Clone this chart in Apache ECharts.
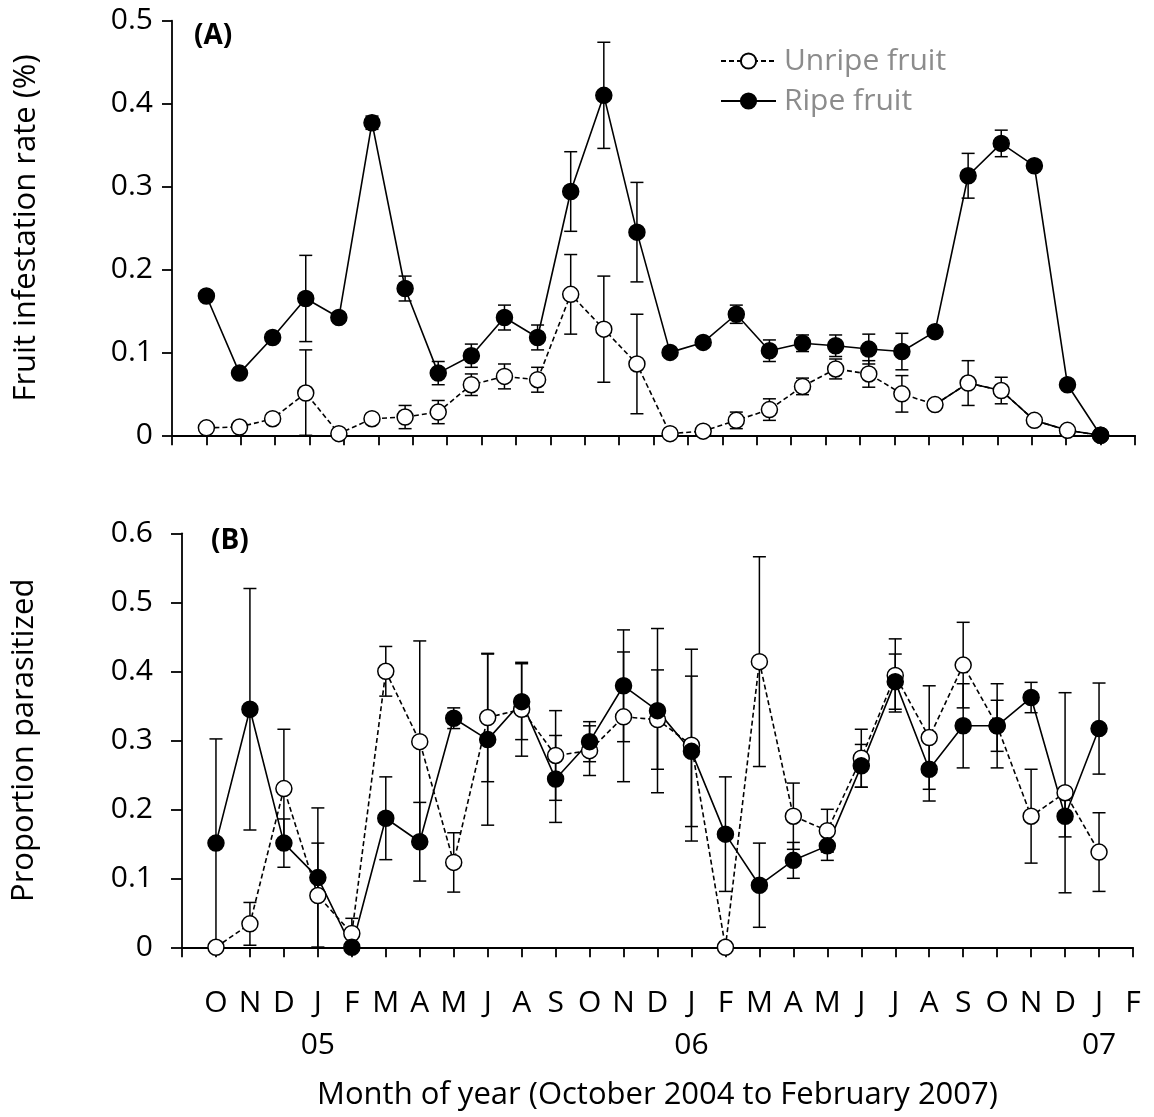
<!DOCTYPE html>
<html>
<head>
<meta charset="utf-8">
<script src="https://cdn.jsdelivr.net/npm/echarts@6/dist/echarts.min.js"></script>
<style>html,body{margin:0;padding:0;background:#fff}#c{width:1154px;height:1117px}</style>
</head>
<body>
<div id="c"></div>
<script>
// ---- tick labels ----
const months = ['O','N','D','J','F','M','A','M','J','A','S','O','N','D','J','F','M','A','M','J','J','A','S','O','N','D','J','F'];
const yearLabels = ['','','','05','','','','','','','','','','','06','','','','','','','','','','','','07',''];

// ---- Panel A: fruit infestation rate (28 samples) ----
const ripeTop      = [0.168,0.075,0.118,0.165,0.142,0.377,0.177,0.075,0.096,0.142,0.118,0.294,0.410,0.245,0.100,0.112,0.146,0.102,0.111,0.108,0.104,0.101,0.125,0.313,0.352,0.325,0.061,0.000];
const ripeTopErr   = [0,0,0,0.052,0,0.008,0.015,0.014,0.014,0.015,0.015,0.048,0.064,0.060,0,0,0.011,0.013,0.010,0.013,0.018,0.022,0,0.027,0.016,0,0,0];
const unripeTop    = [0.009,0.010,0.020,0.051,0.002,0.020,0.022,0.028,0.061,0.071,0.067,0.170,0.128,0.086,0.002,0.005,0.018,0.031,0.059,0.080,0.074,0.050,0.037,0.063,0.054,0.018,0.006,0.000];
const unripeTopErr = [0,0,0,0.052,0,0,0.014,0.014,0.013,0.015,0.015,0.048,0.064,0.060,0,0,0.010,0.013,0.010,0.012,0.016,0.022,0,0.027,0.016,0,0,0];

// ---- Panel B: proportion parasitized (27 samples) ----
const ripeBot      = [0.151,0.345,0.151,0.101,0.000,0.187,0.153,0.332,0.301,0.356,0.244,0.298,0.379,0.343,0.284,0.164,0.090,0.126,0.147,0.263,0.385,0.258,0.321,0.321,0.362,0.190,0.317];
const ripeBotErr   = [0.151,0.175,0.035,0.101,0,0.060,0.057,0.015,0.124,0.055,0.063,0.029,0.081,0.119,0.109,0.083,0.061,0.026,0.021,0.031,0.040,0.046,0.061,0.037,0.022,0.030,0.066];
const unripeBot    = [0.000,0.034,0.230,0.075,0.020,0.400,0.298,0.123,0.333,0.345,0.278,0.285,0.334,0.330,0.293,0.000,0.414,0.190,0.169,0.274,0.394,0.304,0.409,0.321,0.190,0.224,0.138];
const unripeBotErr = [0,0.031,0.086,0.076,0.022,0.036,0.146,0.043,0.093,0.068,0.065,0.036,0.094,0.072,0.139,0,0.152,0.048,0.031,0.042,0.053,0.075,0.062,0.061,0.068,0.145,0.057];

// index in top panel where the unripe line turns from dashed to solid
const unripeSolidFrom = 22;

const FONT = 'Open Sans';
const topPos = i => 1 + i * 26 / 27;   // top panel samples spread evenly between tick 1 and tick 27
const botPos = i => i + 1;

const pts = (vals, pos) => vals.map((v, i) => [pos(i), v]);
const errPts = (vals, errs, pos) => vals.map((v, i) => [pos(i), v, errs[i]]);

function errRender(params, api) {
  const x = api.value(0), y = api.value(1), e = api.value(2);
  if (!e) return null;
  const t = api.coord([x, y + e]);
  const b = api.coord([x, Math.max(0, y - e)]);
  const hw = 6.5;
  const style = { stroke: '#000', lineWidth: 1.5 };
  return { type: 'group', children: [
    { type: 'line', shape: { x1: t[0], y1: t[1], x2: b[0], y2: b[1] }, style },
    { type: 'line', shape: { x1: t[0] - hw, y1: t[1], x2: t[0] + hw, y2: t[1] }, style },
    { type: 'line', shape: { x1: b[0] - hw, y1: b[1], x2: b[0] + hw, y2: b[1] }, style }
  ]};
}

const axisLineStyle = { color: '#000', width: 1.8 };
const yLabelFmt = v => (v === 0 ? '0' : v.toFixed(1));

const ripeStyle = { color: '#000', borderColor: '#000', borderWidth: 1.5 };
const unripeStyle = { color: '#fff', borderColor: '#000', borderWidth: 1.5 };

function errSeries(vals, errs, pos, idx) {
  return { type: 'custom', renderItem: errRender, xAxisIndex: idx, yAxisIndex: idx,
    data: errPts(vals, errs, pos), encode: { x: 0, y: 1 }, silent: true, z: 2 };
}
function lineSeries(name, vals, pos, idx, filled) {
  return { type: 'line', name, xAxisIndex: idx, yAxisIndex: idx, data: pts(vals, pos),
    symbol: 'circle', symbolSize: 16, showAllSymbol: true,
    lineStyle: { color: '#000', width: 1.6, type: filled ? 'solid' : [5, 3] },
    itemStyle: filled ? ripeStyle : unripeStyle,
    emphasis: { disabled: true }, z: 3 };
}

const chart = echarts.init(document.getElementById('c'), null, { renderer: 'canvas' });
chart.setOption({
  animation: false,
  backgroundColor: '#fff',
  textStyle: { fontFamily: FONT },
  grid: [
    { left: 172, top: 20.7, width: 963, height: 414.6 },
    { left: 182, top: 533.3, width: 951, height: 414 }
  ],
  xAxis: [
    { type: 'value', gridIndex: 0, min: 0, max: 28, interval: 1, offset: 15,
      axisLine: { lineStyle: axisLineStyle }, axisTick: { length: 10, lineStyle: axisLineStyle },
      axisLabel: { show: false }, splitLine: { show: false } },
    { type: 'value', gridIndex: 1, min: 0, max: 28, interval: 1, offset: 17.7,
      axisLine: { lineStyle: axisLineStyle }, axisTick: { length: 10, lineStyle: axisLineStyle },
      axisLabel: { color: '#000', fontSize: 30, fontFamily: FONT, lineHeight: 42, margin: 17,
        formatter: v => { const i = Math.round(v) - 1; if (i < 0 || i >= months.length) return '';
          return yearLabels[i] ? months[i] + '\n' + yearLabels[i] : months[i]; } },
      splitLine: { show: false },
      name: 'Month of year (October 2004 to February 2007)', nameLocation: 'middle', nameGap: 115,
      nameTextStyle: { color: '#000', fontSize: 31, fontFamily: FONT } }
  ],
  yAxis: [
    { type: 'value', gridIndex: 0, min: 0, max: 0.5, interval: 0.1,
      axisLine: { show: true, lineStyle: axisLineStyle }, axisTick: { show: true, length: 10, lineStyle: axisLineStyle },
      axisLabel: { color: '#000', fontSize: 30, fontFamily: FONT, margin: 19, formatter: yLabelFmt },
      splitLine: { show: false },
      name: 'Fruit infestation rate (%)', nameLocation: 'middle', nameRotate: 90, nameGap: 130,
      nameTextStyle: { color: '#000', fontSize: 31, fontFamily: FONT } },
    { type: 'value', gridIndex: 1, min: 0, max: 0.6, interval: 0.1,
      axisLine: { show: true, lineStyle: axisLineStyle }, axisTick: { show: true, length: 11, lineStyle: axisLineStyle },
      axisLabel: { color: '#000', fontSize: 30, fontFamily: FONT, margin: 29, formatter: yLabelFmt },
      splitLine: { show: false },
      name: 'Proportion parasitized', nameLocation: 'middle', nameRotate: 90, nameGap: 142,
      nameTextStyle: { color: '#000', fontSize: 31, fontFamily: FONT } }
  ],
  legend: {
    data: ['Unripe fruit', 'Ripe fruit'], orient: 'vertical', left: 715, top: 41,
    itemWidth: 55, itemHeight: 19, itemGap: 10, selectedMode: false,
    textStyle: { color: '#8c8c8c', fontSize: 30, fontFamily: FONT, lineHeight: 30, padding: [0, 0, 0, 3] }
  },
  graphic: [
    { type: 'text', x: 194, y: 36, style: { text: '(A)', fontSize: 28, fontWeight: 'bold', fontFamily: FONT, fill: '#000', verticalAlign: 'middle' } },
    { type: 'text', x: 211, y: 541, style: { text: '(B)', fontSize: 28, fontWeight: 'bold', fontFamily: FONT, fill: '#000', verticalAlign: 'middle' } }
  ],
  series: [
    errSeries(unripeTop, unripeTopErr, topPos, 0),
    errSeries(ripeTop, ripeTopErr, topPos, 0),
    { type: 'line', name: 'unripe-solid-part', xAxisIndex: 0, yAxisIndex: 0,
      data: pts(unripeTop, topPos).slice(unripeSolidFrom), symbol: 'none',
      lineStyle: { color: '#000', width: 1.6 }, emphasis: { disabled: true }, z: 3, silent: true },
    lineSeries('Unripe fruit', unripeTop, topPos, 0, false),
    lineSeries('Ripe fruit', ripeTop, topPos, 0, true),
    errSeries(unripeBot, unripeBotErr, botPos, 1),
    errSeries(ripeBot, ripeBotErr, botPos, 1),
    lineSeries('Unripe fruit', unripeBot, botPos, 1, false),
    lineSeries('Ripe fruit', ripeBot, botPos, 1, true)
  ]
});
</script>
</body>
</html>
